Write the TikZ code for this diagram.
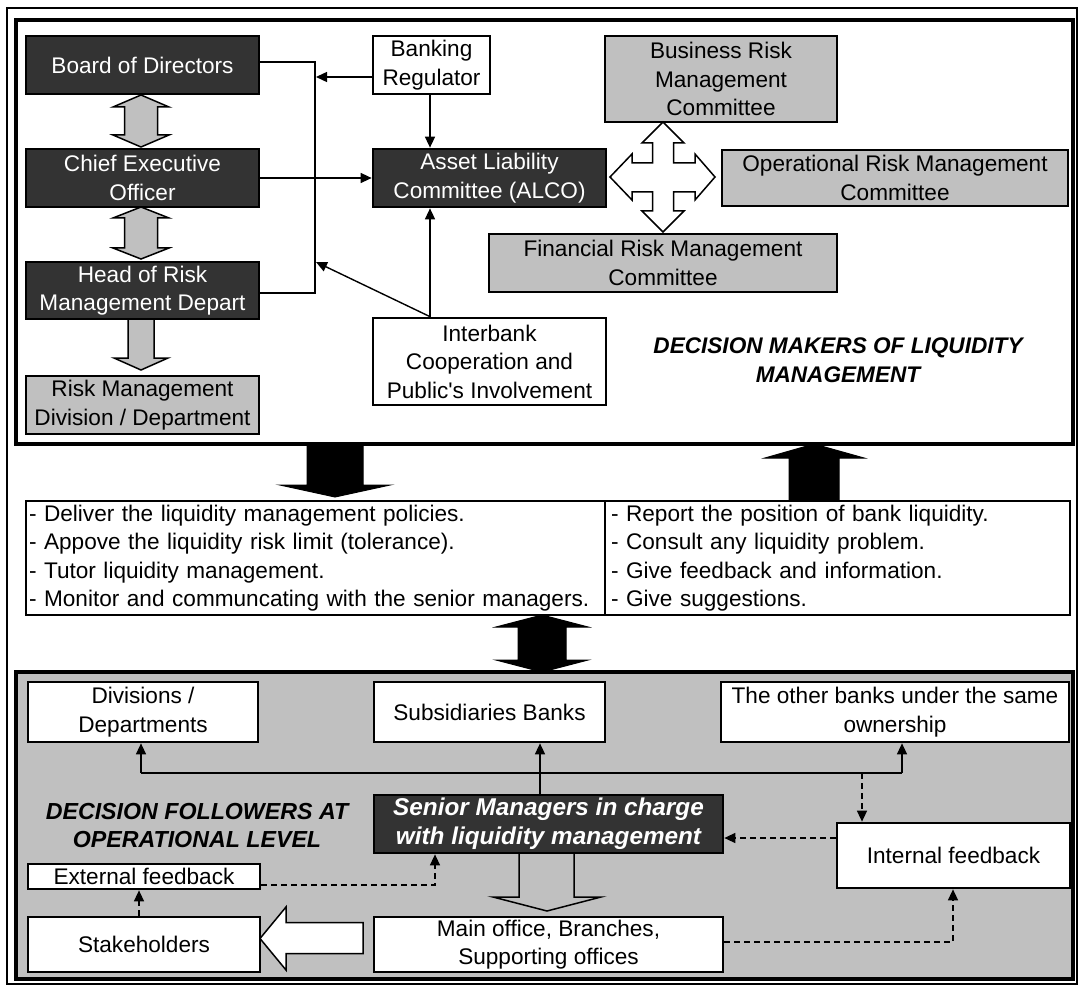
\documentclass[tikz,border=0pt]{standalone}
\usepackage{fontspec}
\setmainfont{Liberation Sans}
\usetikzlibrary{arrows.meta}
\definecolor{darkc}{HTML}{333333}
\definecolor{grayc}{HTML}{C0C0C0}
\newcommand\fsz{\fontsize{22.6}{28.5}\selectfont}
\newcommand\fszb{\fontsize{24.3}{29}\selectfont}
\tikzset{
  x=1pt, y=-1pt,
  base/.style={draw=black, line width=2.7pt, inner sep=0pt, align=center, font=\fsz},
  dark/.style={base, fill=darkc, text=white},
  grayb/.style={base, fill=grayc},
  whiteb/.style={base, fill=white},
  conn/.style={line width=1.4pt, -{Triangle[length=11pt,width=10pt]}},
  dconn/.style={line width=1.4pt, dash pattern=on 6pt off 4pt, -{Triangle[length=11pt,width=10pt]}},
  plain/.style={line width=1.4pt},
  grayarrow/.style={fill=grayc, draw=black, line width=1.5pt, line join=miter},
  blackarrow/.style={fill=black, draw=black, line width=1pt},
  hollow/.style={draw=black, line width=1.5pt, line join=miter},
  heading/.style={font=\fsz\bfseries\itshape, align=center, inner sep=0pt}
}
\begin{document}
\begin{tikzpicture}
\useasboundingbox (0,0) rectangle (1079,987);
% frames
\draw[line width=2pt] (7,8) rectangle (1077,984);
\draw[line width=4pt, fill=white] (16,20.5) rectangle (1073,444);
\draw[line width=4pt, fill=grayc] (16,672) rectangle (1073,979);

% ---------- top section ----------
\node[dark, minimum width=233pt, minimum height=58pt] (board) at (142.5,65) {Board of Directors};
\node[dark, minimum width=233pt, minimum height=58pt] (ceo) at (142.5,178) {Chief Executive\\Officer};
\node[dark, minimum width=233pt, minimum height=57pt] (head) at (142.5,290.5) {Head of Risk\\Management Depart};
\node[grayb, minimum width=233pt, minimum height=58pt] (rmd) at (142.5,405) {Risk Management\\Division / Department};
\node[whiteb, minimum width=117pt, minimum height=58pt] (bank) at (431.5,65) {Banking\\Regulator};
\node[dark, minimum width=233pt, minimum height=58pt] (alco) at (489.5,178) {Asset Liability\\Committee (ALCO)};
\node[whiteb, minimum width=233pt, minimum height=87pt] (inter) at (489.5,361.5) {Interbank\\Cooperation and\\Public\textquotesingle s Involvement};
\node[grayb, minimum width=232pt, minimum height=86pt] (brmc) at (721,79) {Business Risk\\Management\\Committee};
\node[grayb, minimum width=346pt, minimum height=56pt] (ormc) at (895,178) {Operational Risk Management\\Committee};
\node[grayb, minimum width=348pt, minimum height=58pt] (frmc) at (663,263) {Financial Risk Management\\Committee};
\node[heading] (dm) at (838,360) {DECISION MAKERS OF LIQUIDITY\\MANAGEMENT};

% gray block arrows
\filldraw[grayarrow] (141,95) -- (169,107) -- (157.5,107) -- (157.5,135) -- (169,135) -- (141,147) -- (113,135) -- (124.5,135) -- (124.5,107) -- (113,107) -- cycle;
\filldraw[grayarrow] (141,207) -- (169,218) -- (157.5,218) -- (157.5,248) -- (169,248) -- (141,259) -- (113,248) -- (124.5,248) -- (124.5,218) -- (113,218) -- cycle;
\filldraw[grayarrow] (128,319) -- (154,319) -- (154,358) -- (168,358) -- (141,370) -- (114,358) -- (128,358) -- cycle;

% four-way arrow
\filldraw[hollow, fill=white] (663,122) -- (684,143) -- (673.5,143) -- (673.5,163) -- (695,163) -- (695,154) -- (715,177) -- (695,200) -- (695,192) -- (673.5,192) -- (673.5,211) -- (684,211) -- (663,232) -- (642,211) -- (652.5,211) -- (652.5,192) -- (632,192) -- (632,200) -- (610,177) -- (632,154) -- (632,163) -- (652.5,163) -- (652.5,143) -- (642,143) -- cycle;

% connectors top
\coordinate (vt) at (315,62);
\coordinate (vb) at (315,293);
\coordinate (j1) at (316,77);
\coordinate (j2) at (316,262);
\coordinate (ip) at (430,318);
\draw[plain] (board.east |- vt) -- (vt) -- (vb) -- (head.east |- vb);
\draw[conn] (bank.west |- j1) -- (j1);
\draw[conn] (ceo.east) -- (alco.west);
\draw[conn] (bank.south -| ip) -- (alco.north -| ip);
\draw[conn] (inter.north -| ip) -- (alco.south -| ip);
\draw[conn] (inter.north -| ip) -- (j2);

% ---------- middle ----------
\filldraw[blackarrow] (307,444) -- (363,444) -- (363,485) -- (390,485) -- (335,497) -- (280,485) -- (307,485) -- cycle;
\filldraw[blackarrow] (814,444) -- (864,458) -- (839,458) -- (839,501) -- (789,501) -- (789,458) -- (765,458) -- cycle;
\node[whiteb, minimum width=579pt, minimum height=114pt, text width=573pt, align=left] (tl) at (315.5,558)
 {- Deliver the liquidity management policies.\\- Appove the liquidity risk limit (tolerance).\\- Tutor liquidity management.\\- Monitor and communcating with the senior managers.};
\node[whiteb, minimum width=465pt, minimum height=114pt, text width=453pt, align=left] (tr) at (837.5,558)
 {- Report the position of bank liquidity.\\- Consult any liquidity problem.\\- Give feedback and information.\\- Give suggestions.};
\filldraw[blackarrow] (542,615) -- (588,627) -- (566,627) -- (566,660) -- (588,660) -- (542,672) -- (496,660) -- (518,660) -- (518,627) -- (496,627) -- cycle;

% ---------- bottom section ----------
\node[whiteb, minimum width=230pt, minimum height=60pt] (div) at (143,712) {Divisions /\\Departments};
\node[whiteb, minimum width=231pt, minimum height=60pt] (subs) at (489.5,712) {Subsidiaries Banks};
\node[whiteb, minimum width=348pt, minimum height=60pt] (other) at (895,712) {The other banks under the same\\ownership};
\node[dark, minimum width=349pt, minimum height=58pt, font=\fszb\bfseries\itshape] (senior) at (548.5,824) {Senior Managers in charge\\with liquidity management};
\node[whiteb, minimum width=233pt, minimum height=65pt] (internal) at (953.5,855.5) {Internal feedback};
\node[whiteb, minimum width=232pt, minimum height=25pt] (external) at (144,876.5) {External feedback};
\node[whiteb, minimum width=232pt, minimum height=55pt] (stake) at (144,944.5) {Stakeholders};
\node[whiteb, minimum width=349pt, minimum height=55pt] (main) at (548.5,944.5) {Main office, Branches,\\Supporting offices};
\node[heading, font=\fontsize{23.2}{28.5}\selectfont\bfseries\itshape] (df) at (197,825.5) {DECISION FOLLOWERS AT\\OPERATIONAL LEVEL};

% hollow arrows
\draw[hollow] (519,853) -- (519,897) -- (493,897) -- (547,911) -- (601,897) -- (574,897) -- (574,853);
\filldraw[hollow, fill=white] (260,938.5) -- (286,907) -- (286,922.5) -- (363,922.5) -- (363,953.5) -- (286,953.5) -- (286,970) -- cycle;

% connectors bottom
\coordinate (h1) at (141,773);
\coordinate (h2) at (902,773);
\coordinate (hv) at (540,773);
\coordinate (hd) at (862,773);
\coordinate (id) at (837,838);
\coordinate (e1) at (435,885);
\coordinate (s1) at (139,905);
\coordinate (m1) at (953,942);
\draw[conn] (senior.north -| hv) -- (subs.south -| hv);
\draw[plain] (h1) -- (h2);
\draw[conn] (h1) -- (div.south -| h1);
\draw[conn] (h2) -- (other.south -| h2);
\draw[dconn] (hd) -- (internal.north -| hd);
\draw[dconn] (internal.west |- id) -- (senior.east |- id);
\draw[dconn] (external.east |- e1) -- (e1) -- (senior.south -| e1);
\draw[dconn] (stake.north -| s1) -- (external.south -| s1);
\draw[dconn] (main.east |- m1) -- (m1) -- (internal.south -| m1);
\end{tikzpicture}
\end{document}
